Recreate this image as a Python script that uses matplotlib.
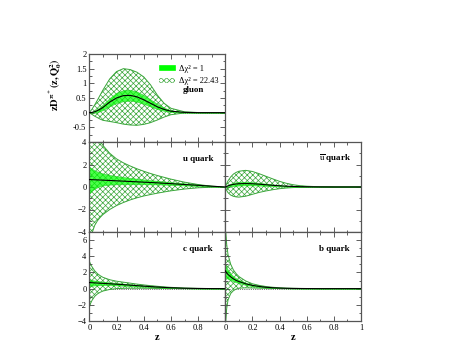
import matplotlib
matplotlib.use("Agg")
import matplotlib.pyplot as plt
from matplotlib.patches import Patch
from matplotlib.ticker import MultipleLocator

plt.rcParams['font.family'] = ['Liberation Serif', 'DejaVu Serif']
plt.rcParams['mathtext.fontset'] = 'stix'
plt.rcParams['hatch.linewidth'] = 0.5

# sample points in z
z = [0, 0.01, 0.02, 0.04, 0.06, 0.08, 0.1, 0.15, 0.2, 0.25, 0.3,
     0.35, 0.4, 0.45, 0.5, 0.55, 0.6, 0.7, 0.8, 0.9, 1.0]

# gluon
g_c = [0, 0.005, 0.01, 0.03, 0.07, 0.12, 0.18, 0.36, 0.5, 0.58, 0.59,
       0.54, 0.44, 0.32, 0.2, 0.11, 0.05, 0.01, 0, 0, 0]
g_hi1 = [0, 0.01, 0.03, 0.07, 0.13, 0.2, 0.28, 0.5, 0.68, 0.77, 0.78,
         0.72, 0.6, 0.45, 0.3, 0.17, 0.08, 0.02, 0, 0, 0]
g_lo1 = [0, 0, 0, 0, 0.02, 0.05, 0.09, 0.22, 0.33, 0.39, 0.41,
         0.37, 0.3, 0.21, 0.12, 0.06, 0.02, 0, 0, 0, 0]
g_hi2 = [0, 0.06, 0.12, 0.27, 0.43, 0.6, 0.77, 1.15, 1.4, 1.5, 1.47,
         1.38, 1.22, 0.95, 0.6, 0.32, 0.15, 0.03, 0.005, 0, 0]
g_lo2 = [0, -0.03, -0.06, -0.12, -0.17, -0.22, -0.26, -0.3, -0.34, -0.39, -0.42,
         -0.43, -0.4, -0.34, -0.25, -0.15, -0.07, -0.01, 0, 0, 0]

# u quark
u_c = [0.66, 0.66, 0.65, 0.64, 0.63, 0.62, 0.61, 0.58, 0.55, 0.52, 0.49,
       0.46, 0.43, 0.4, 0.37, 0.33, 0.3, 0.22, 0.15, 0.07, 0]
u_hi1 = [1.8, 1.7, 1.62, 1.48, 1.37, 1.28, 1.2, 1.07, 0.97, 0.89, 0.81,
         0.74, 0.67, 0.61, 0.55, 0.49, 0.43, 0.33, 0.22, 0.11, 0]
u_lo1 = [-0.6, -0.45, -0.32, -0.15, -0.02, 0.07, 0.14, 0.21, 0.24, 0.25, 0.25,
         0.25, 0.25, 0.24, 0.23, 0.21, 0.19, 0.14, 0.09, 0.04, 0]
u_hi2 = [6.5, 6.0, 5.6, 5.0, 4.5, 4.1, 3.7, 3.0, 2.5, 2.15, 1.87,
         1.62, 1.4, 1.2, 1.02, 0.86, 0.7, 0.43, 0.22, 0.07, 0]
u_lo2 = [-5.5, -4.6, -4.1, -3.4, -3.0, -2.7, -2.45, -2.0, -1.65, -1.38, -1.15,
         -0.96, -0.8, -0.67, -0.55, -0.44, -0.34, -0.18, -0.07, -0.02, 0]

# u-bar quark
ub_c = [0, 0.05, 0.1, 0.18, 0.23, 0.27, 0.29, 0.31, 0.29, 0.25, 0.2,
        0.15, 0.11, 0.07, 0.05, 0.03, 0.02, 0.005, 0, 0, 0]
ub_hi1 = [0, 0.1, 0.18, 0.3, 0.38, 0.43, 0.45, 0.46, 0.43, 0.37, 0.3,
          0.23, 0.16, 0.11, 0.07, 0.04, 0.02, 0.005, 0, 0, 0]
ub_lo1 = [0, 0, 0.02, 0.06, 0.09, 0.11, 0.13, 0.15, 0.15, 0.13, 0.1,
          0.07, 0.05, 0.03, 0.02, 0.01, 0.005, 0, 0, 0, 0]
ub_hi2 = [0, 0.3, 0.55, 0.9, 1.15, 1.3, 1.4, 1.48, 1.38, 1.18, 0.95,
          0.72, 0.5, 0.33, 0.2, 0.12, 0.07, 0.02, 0, 0, 0]
ub_lo2 = [0, -0.3, -0.5, -0.72, -0.83, -0.88, -0.9, -0.82, -0.65, -0.48, -0.35,
          -0.24, -0.15, -0.09, -0.05, -0.03, -0.01, 0, 0, 0, 0]

# c quark
c_c = [0.75, 0.74, 0.73, 0.71, 0.69, 0.67, 0.65, 0.6, 0.55, 0.49, 0.43,
       0.37, 0.31, 0.25, 0.2, 0.15, 0.11, 0.05, 0.02, 0.005, 0]
c_hi1 = [1.15, 1.1, 1.05, 1.0, 0.95, 0.9, 0.86, 0.78, 0.7, 0.62, 0.54,
         0.46, 0.38, 0.31, 0.24, 0.18, 0.13, 0.06, 0.02, 0.005, 0]
c_lo1 = [0.3, 0.33, 0.36, 0.4, 0.42, 0.43, 0.44, 0.43, 0.4, 0.36, 0.32,
         0.27, 0.23, 0.19, 0.15, 0.11, 0.08, 0.04, 0.01, 0, 0]
c_hi2 = [3.4, 3.0, 2.7, 2.2, 1.85, 1.6, 1.4, 1.1, 0.92, 0.8, 0.68,
         0.56, 0.46, 0.37, 0.29, 0.22, 0.16, 0.08, 0.03, 0.01, 0]
c_lo2 = [-2.3, -1.8, -1.45, -0.95, -0.65, -0.45, -0.3, -0.1, 0, 0.04, 0.05,
         0.05, 0.05, 0.04, 0.03, 0.02, 0.01, 0, 0, 0, 0]

# b quark
b_c = [2.2, 1.95, 1.75, 1.45, 1.2, 1.02, 0.88, 0.6, 0.4, 0.27, 0.17,
       0.11, 0.07, 0.04, 0.025, 0.015, 0.01, 0, 0, 0, 0]
b_hi1 = [3.0, 2.6, 2.3, 1.85, 1.5, 1.27, 1.08, 0.74, 0.5, 0.33, 0.21,
         0.13, 0.08, 0.05, 0.03, 0.02, 0.01, 0, 0, 0, 0]
b_lo1 = [1.4, 1.3, 1.2, 1.05, 0.9, 0.78, 0.68, 0.46, 0.3, 0.2, 0.13,
         0.08, 0.05, 0.03, 0.02, 0.01, 0.005, 0, 0, 0, 0]
b_hi2 = [8.0, 5.5, 4.2, 3.0, 2.3, 1.85, 1.5, 0.95, 0.6, 0.4, 0.26,
         0.17, 0.11, 0.07, 0.04, 0.025, 0.015, 0, 0, 0, 0]
b_lo2 = [-5.0, -2.5, -1.4, -0.6, -0.25, -0.05, 0.05, 0.1, 0.08, 0.06, 0.04,
         0.03, 0.02, 0.01, 0.005, 0, 0, 0, 0, 0, 0]

band_col = '#00ff00'
hatch_col = '#3aa63a'

W, H = 462, 357
fig = plt.figure(figsize=(W / 100, H / 100), dpi=100)


def make_ax(x0, y0, x1, y1):
    return fig.add_axes([x0 / W, 1 - y1 / H, (x1 - x0) / W, (y1 - y0) / H])


ax_g = make_ax(89.3, 54, 225.3, 142)
ax_u = make_ax(89.3, 142, 225.3, 232)
ax_ub = make_ax(225.3, 142, 361, 232)
ax_c = make_ax(89.3, 232, 225.3, 321)
ax_b = make_ax(225.3, 232, 361, 321)

panels = [
    (ax_g, g_c, g_lo1, g_hi1, g_lo2, g_hi2, 'gluon', (-1, 2), 0.5, 0.25),
    (ax_u, u_c, u_lo1, u_hi1, u_lo2, u_hi2, 'u quark', (-4, 4), 2, 1),
    (ax_ub, ub_c, ub_lo1, ub_hi1, ub_lo2, ub_hi2, r'$\overline{\rm u}$ quark', (-4, 4), 2, 1),
    (ax_c, c_c, c_lo1, c_hi1, c_lo2, c_hi2, 'c quark', (-4, 7), 2, 1),
    (ax_b, b_c, b_lo1, b_hi1, b_lo2, b_hi2, 'b quark', (-4, 7), 2, 1),
]

for ax, c, lo1, hi1, lo2, hi2, name, ylim, ymaj, ymin in panels:
    ax.fill_between(z, lo2, hi2, facecolor='white', hatch='xxxxxx',
                    edgecolor=hatch_col, linewidth=0.7, zorder=1)
    ax.fill_between(z, lo1, hi1, facecolor=band_col, alpha=0.7,
                    edgecolor='#22cc22', linewidth=0.5, zorder=2)
    ax.plot(z, c, color='black', lw=0.8, zorder=3)
    ax.axhline(0, color='black', lw=0.5, ls=':', zorder=0)
    ax.set_xlim(0, 1)
    ax.set_ylim(*ylim)
    ax.xaxis.set_major_locator(MultipleLocator(0.2))
    ax.xaxis.set_minor_locator(MultipleLocator(0.1))
    ax.yaxis.set_major_locator(MultipleLocator(ymaj))
    ax.yaxis.set_minor_locator(MultipleLocator(ymin))
    ax.tick_params(which='both', direction='in', top=True, right=True,
                   labelsize=6, width=0.6, colors='#444444', labelcolor='black', pad=2)
    ax.tick_params(which='major', length=3.5)
    ax.tick_params(which='minor', length=1.8)
    for s in ax.spines.values():
        s.set_color('#555555')
        s.set_linewidth(0.9)
    ty = 0.59 if name == 'gluon' else 0.81
    ax.text(0.69, ty, name, transform=ax.transAxes, fontsize=6.5,
            fontweight='bold', ha='left', va='center')

# tick label visibility
ax_g.set_yticks([-0.5, 0, 0.5, 1, 1.5, 2])
ax_g.set_yticklabels(['-0.5', '0', '0.5', '1', '1.5', '2'])
ax_g.tick_params(labelbottom=False)
ax_u.tick_params(labelbottom=False)
ax_ub.tick_params(labelbottom=False, labelleft=False)
ax_b.tick_params(labelleft=False)
ax_u.set_yticks([-4, -2, 0, 2, 4])
ax_c.set_yticks([-4, -2, 0, 2, 4, 6])
ax_c.set_xticks([0, 0.2, 0.4, 0.6, 0.8])
ax_c.set_xticklabels(['0', '0.2', '0.4', '0.6', '0.8'])
ax_b.set_xticks([0, 0.2, 0.4, 0.6, 0.8, 1])
ax_b.set_xticklabels(['0', '0.2', '0.4', '0.6', '0.8', '1'])
ax_c.set_xlabel('z', fontsize=7.5, fontweight='bold', labelpad=1)
ax_b.set_xlabel('z', fontsize=7.5, fontweight='bold', labelpad=1)

# legend
handles = [Patch(facecolor=band_col, edgecolor=band_col, lw=0.5),
           Patch(facecolor='white', edgecolor=hatch_col, hatch='xxxxxx', lw=0)]
labels = ['Δχ² = 1', 'Δχ² = 22.43']
ax_g.legend(handles, labels, loc='upper left', bbox_to_anchor=(0.515, 0.88),
            frameon=False, fontsize=6, handlelength=1.9, handleheight=0.6,
            handletextpad=0.5, labelspacing=0.55, borderpad=0, borderaxespad=0)

fig.text(55 / W, 1 - 85 / H, r'$\mathbf{zD^{\pi^+}(z,Q_0^2)}$', rotation=90,
         fontsize=7.5, ha='center', va='center')

fig.savefig('out.png', dpi=100)
